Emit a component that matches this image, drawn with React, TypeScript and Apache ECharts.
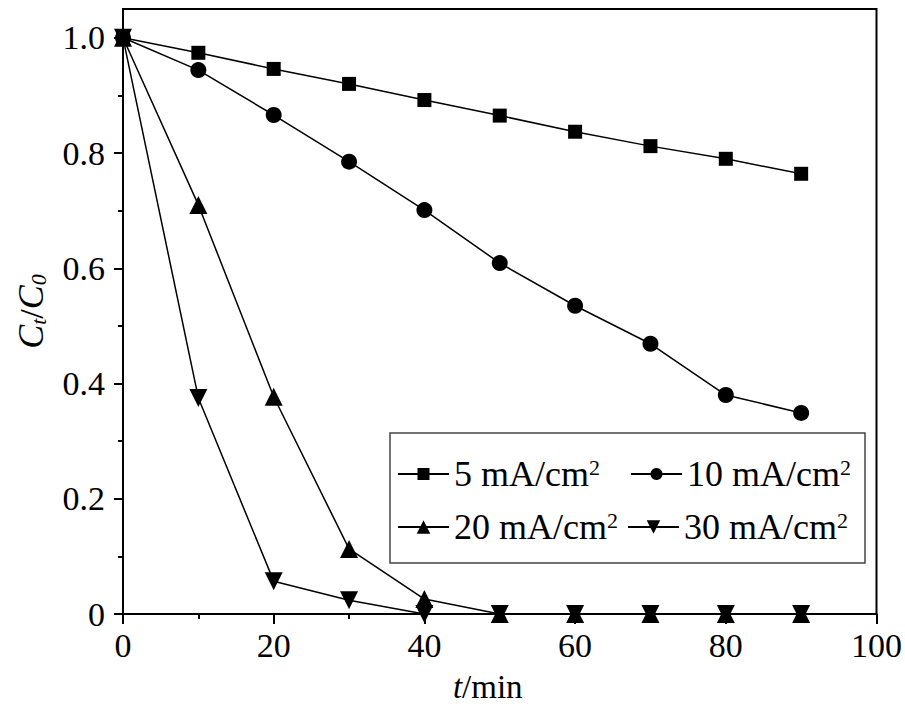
import React, { useEffect, useRef } from "react";
import * as echarts from "echarts";

const times = [0, 10, 20, 30, 40, 50, 60, 70, 80, 90];
const s5 = [1.0, 0.974, 0.946, 0.92, 0.892, 0.865, 0.837, 0.812, 0.79, 0.764];
const s10 = [1.0, 0.944, 0.866, 0.785, 0.701, 0.609, 0.535, 0.469, 0.38, 0.349];
const s20 = [1.0, 0.71, 0.377, 0.113, 0.026, 0, 0, 0, 0, 0];
const s30 = [1.0, 0.375, 0.057, 0.024, 0, 0, 0, 0, 0, 0];
const seriesNames = ["5 mA/cm{s|2}", "10 mA/cm{s|2}", "20 mA/cm{s|2}", "30 mA/cm{s|2}"];
const yMajor = [0, 0.2, 0.4, 0.6, 0.8, 1.0];
const yMinor = [0.1, 0.3, 0.5, 0.7, 0.9];

const FONT = "Liberation Serif";

export default function App() {
  const ref = useRef<HTMLDivElement>(null);
  useEffect(() => {
    if (!ref.current) return;
    const chart = echarts.init(ref.current, null, { renderer: "svg" });
    const pair = (arr: number[]) => times.map((t, i) => [t, arr[i]]);
    const mk = (name: string, data: number[], symbol: string, size: number, rotate = 0) => ({
      name,
      type: "line",
      data: pair(data),
      symbol,
      symbolSize: size,
      symbolRotate: rotate,
      showAllSymbol: true,
      clip: false,
      lineStyle: { color: "#000", width: 1.5 },
      itemStyle: { color: "#000" },
      emphasis: { disabled: true },
    });
    const legendText = {
      fontFamily: FONT,
      fontSize: 36,
      color: "#000",
      rich: {
        s: { fontFamily: FONT, fontSize: 22, verticalAlign: "top", padding: [0, 0, 14, 0] },
      },
    };
    chart.setOption({
      animation: false,
      backgroundColor: "#fff",
      textStyle: { fontFamily: FONT },
      grid: {
        left: 123,
        top: 9,
        right: 28,
        bottom: 96,
        show: true,
        borderColor: "#000",
        borderWidth: 2,
        containLabel: false,
      },
      legend: [
        {
          data: [seriesNames[0], seriesNames[1]],
          left: 397,
          top: 456,
          padding: 0,
          itemWidth: 51,
          itemHeight: 15,
          itemGap: 30,
          textStyle: legendText,
          formatter: (n: string) => n,
          selectedMode: false,
        },
        {
          data: [seriesNames[2], seriesNames[3]],
          left: 397,
          top: 509,
          padding: 0,
          itemWidth: 51,
          itemHeight: 17,
          itemGap: 9,
          textStyle: legendText,
          formatter: (n: string) => n,
          selectedMode: false,
        },
      ],
      graphic: [
        {
          type: "rect",
          shape: { x: 390, y: 433, width: 475, height: 130 },
          style: { fill: "none", stroke: "#444", lineWidth: 1.5 },
          z: 1,
        },
      ],
      xAxis: {
        type: "value",
        min: 0,
        max: 100,
        interval: 20,
        name: "{i|t}/min",
        nameLocation: "middle",
        nameGap: 56,
        nameTextStyle: {
          fontFamily: FONT,
          fontSize: 33,
          color: "#000",
          padding: [0, 24, 0, 0],
          rich: { i: { fontFamily: FONT, fontSize: 33, fontStyle: "italic", color: "#000" } },
        },
        axisLine: { lineStyle: { color: "#000", width: 2 } },
        axisTick: { show: true, inside: false, length: 10, lineStyle: { color: "#000", width: 2 } },
        minorTick: { show: true, splitNumber: 2, length: 5, lineStyle: { color: "#000", width: 2 } },
        axisLabel: { fontFamily: FONT, fontSize: 34, color: "#000", margin: 14 },
        splitLine: { show: false },
      },
      yAxis: [
        {
          type: "value",
          min: 0,
          max: 1.05,
          interval: 0.2,
          name: "{i|C}{sub|t}/{i|C}{sub|0}",
          nameLocation: "middle",
          nameRotate: 90,
          nameGap: 74,
          nameTextStyle: {
            fontFamily: FONT,
            fontSize: 34,
            color: "#000",
            rich: {
              i: { fontFamily: FONT, fontSize: 36, fontStyle: "italic", color: "#000" },
              sub: { fontFamily: FONT, fontSize: 22, fontStyle: "italic", color: "#000", verticalAlign: "bottom", padding: [12, 0, 0, 0] },
            },
          },
          axisLine: { lineStyle: { color: "#000", width: 2 } },
          axisTick: { show: true, inside: false, length: 9, customValues: yMajor, lineStyle: { color: "#000", width: 2 } },
          minorTick: { show: false },
          axisLabel: {
            fontFamily: FONT,
            fontSize: 34,
            color: "#000",
            margin: 18,
            customValues: yMajor,
            formatter: (v: number) => (v === 0 ? "0" : v.toFixed(1)),
          },
          splitLine: { show: false },
        },
        {
          type: "value",
          min: 0,
          max: 1.05,
          position: "left",
          interval: 0.1,
          axisLine: { show: false },
          axisTick: { show: true, inside: false, length: 5, customValues: yMinor, lineStyle: { color: "#000", width: 2 } },
          axisLabel: { show: false },
          splitLine: { show: false },
        },
      ],
      series: [
        mk(seriesNames[0], s5, "rect", 14),
        mk(seriesNames[1], s10, "circle", 16),
        mk(seriesNames[2], s20, "triangle", 18),
        mk(seriesNames[3], s30, "triangle", 18, 180),
      ],
    });
    return () => chart.dispose();
  }, []);
  return (
    <div
      ref={ref}
      style={{ position: "fixed", left: 0, top: 0, width: 905, height: 710, background: "#fff" }}
    />
  );
}
